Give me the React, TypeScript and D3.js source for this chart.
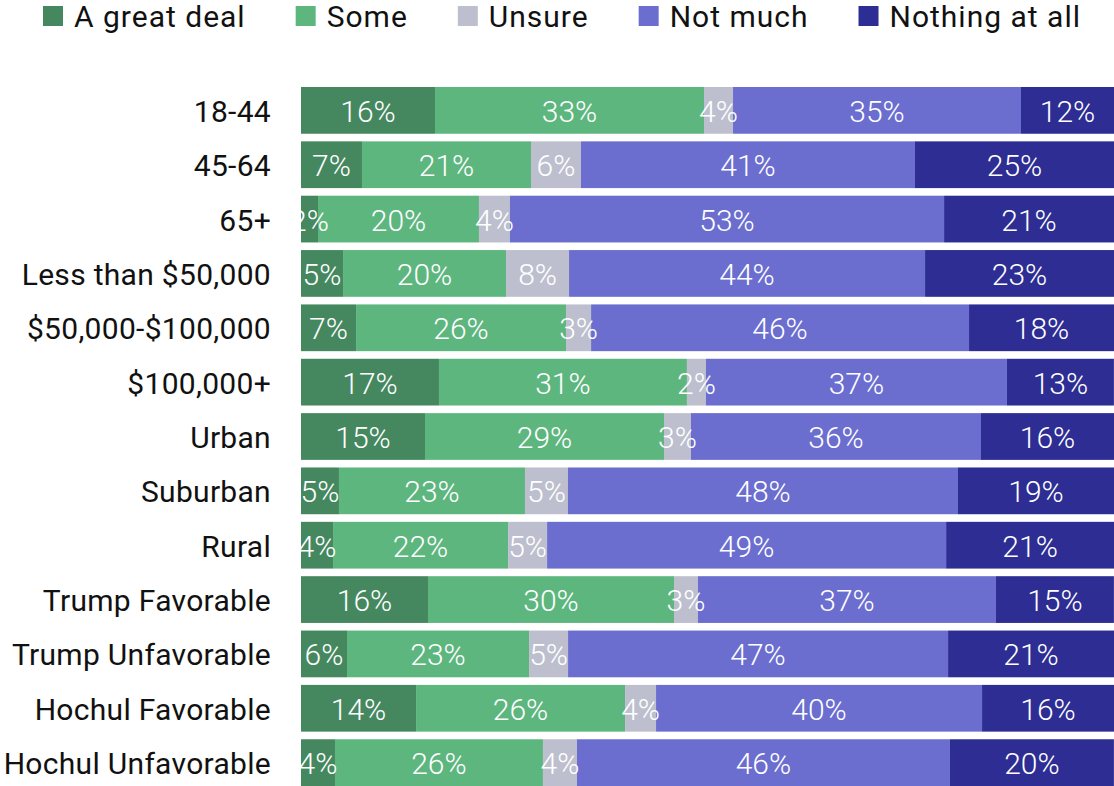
import React, { useEffect, useRef } from "react";
import * as d3 from "d3";

const categories = [
  "18-44",
  "45-64",
  "65+",
  "Less than $50,000",
  "$50,000-$100,000",
  "$100,000+",
  "Urban",
  "Suburban",
  "Rural",
  "Trump Favorable",
  "Trump Unfavorable",
  "Hochul Favorable",
  "Hochul Unfavorable",
];

const seriesNames = ["A great deal", "Some", "Unsure", "Not much", "Nothing at all"];
const seriesColors = ["#458860", "#5eb67f", "#bdbfce", "#6b6ecf", "#2d2d93"];

// shares (as drawn)
const greatDeal = [16.48, 7.5, 2.09, 5.17, 6.77, 16.97, 15.25, 4.67, 3.94, 15.62, 5.66, 14.15, 4.18];
const some = [33.09, 20.79, 19.8, 20.05, 25.83, 30.5, 29.4, 22.88, 21.53, 30.26, 22.39, 25.71, 25.58];
const unsure = [3.57, 6.15, 3.81, 7.75, 3.08, 2.34, 3.32, 5.29, 4.8, 2.95, 4.8, 3.81, 4.18];
const notMuch = [35.42, 41.08, 53.4, 43.79, 46.49, 37.02, 35.67, 47.97, 49.08, 36.65, 46.74, 40.1, 45.88];
const nothingAtAll = [11.44, 24.48, 20.9, 23.25, 17.84, 13.16, 16.36, 19.19, 20.66, 14.51, 20.42, 16.24, 20.17];

// printed labels
const greatDealLbl = [16, 7, 2, 5, 7, 17, 15, 5, 4, 16, 6, 14, 4];
const someLbl = [33, 21, 20, 20, 26, 31, 29, 23, 22, 30, 23, 26, 26];
const unsureLbl = [4, 6, 4, 8, 3, 2, 3, 5, 5, 3, 5, 4, 4];
const notMuchLbl = [35, 41, 53, 44, 46, 37, 36, 48, 49, 37, 47, 40, 46];
const nothingLbl = [12, 25, 21, 23, 18, 13, 16, 19, 21, 15, 21, 16, 20];

const W = 1114;
const H = 786;
const FONT = "Roboto, 'Noto Sans', sans-serif";

export default function App() {
  const ref = useRef<SVGSVGElement>(null);

  useEffect(() => {
    document.body.style.margin = "0";
    const svg = d3.select(ref.current);
    svg.selectAll("*").remove();

    const valueSeries = [greatDeal, some, unsure, notMuch, nothingAtAll];
    const labelSeries = [greatDealLbl, someLbl, unsureLbl, notMuchLbl, nothingLbl];

    const table = categories.map((c, i) => {
      const row: any = { cat: c };
      seriesNames.forEach((s, j) => (row[s] = valueSeries[j][i]));
      return row;
    });
    const stacked = d3.stack<any>().keys(seriesNames)(table);

    const x = d3.scaleLinear().domain([0, 100]).range([301, 1114]);
    const y = d3
      .scaleBand<string>()
      .domain(categories)
      .range([87, 786])
      .paddingInner(0.14)
      .paddingOuter(0);

    const g = svg.append("g");
    stacked.forEach((layer, j) => {
      const lg = g.append("g");
      lg.selectAll("rect")
        .data(layer)
        .join("rect")
        .attr("x", (d) => x(d[0]))
        .attr("y", (d: any) => y(d.data.cat)!)
        .attr("width", (d) => x(d[1]) - x(d[0]))
        .attr("height", y.bandwidth())
        .attr("fill", seriesColors[j]);
    });
    stacked.forEach((layer, j) => {
      g.append("g")
        .selectAll("text")
        .data(layer)
        .join("text")
        .attr("x", (d) => (x(d[0]) + x(d[1])) / 2)
        .attr("y", (d: any) => y(d.data.cat)! + y.bandwidth() / 2 + 1)
        .attr("text-anchor", "middle")
        .attr("dominant-baseline", "central")
        .attr("fill", "#ffffff")
        .style("font-family", FONT)
        .style("font-size", "30px")
        .style("font-weight", 300)
        .text((d, i) => `${labelSeries[j][i]}%`);
    });

    // category labels
    svg
      .append("g")
      .selectAll("text")
      .data(categories)
      .join("text")
      .attr("x", 271)
      .attr("y", (d) => y(d)! + y.bandwidth() / 2 + 1)
      .attr("text-anchor", "end")
      .attr("dominant-baseline", "central")
      .attr("fill", "#111111")
      .style("font-family", FONT)
      .style("font-size", "30px")
      .style("letter-spacing", "0.3px")
      .text((d) => d);

    // legend
    const leg = svg.append("g");
    const items = leg
      .selectAll("g")
      .data(seriesNames)
      .join("g");
    items
      .append("rect")
      .attr("width", 20)
      .attr("height", 20)
      .attr("y", 6)
      .attr("fill", (d, i) => seriesColors[i]);
    const texts = items
      .append("text")
      .attr("x", 31)
      .attr("y", 27)
      .attr("fill", "#111111")
      .style("font-family", FONT)
      .style("font-size", "30px")
      .style("letter-spacing", "1px")
      .text((d) => d);
    const widths: number[] = [];
    texts.each(function () {
      widths.push((this as SVGTextElement).getComputedTextLength());
    });
    const left = 43;
    const right = 1081;
    const itemW = widths.map((w) => 31 + w);
    const total = d3.sum(itemW);
    const gap = (right - left - total) / (seriesNames.length - 1);
    let cx = left;
    items.attr("transform", (d, i) => {
      const t = `translate(${cx},0)`;
      cx += itemW[i] + gap;
      return t;
    });
  }, []);

  return (
    <svg
      ref={ref}
      width={W}
      height={H}
      style={{ display: "block", background: "#ffffff" }}
    />
  );
}
